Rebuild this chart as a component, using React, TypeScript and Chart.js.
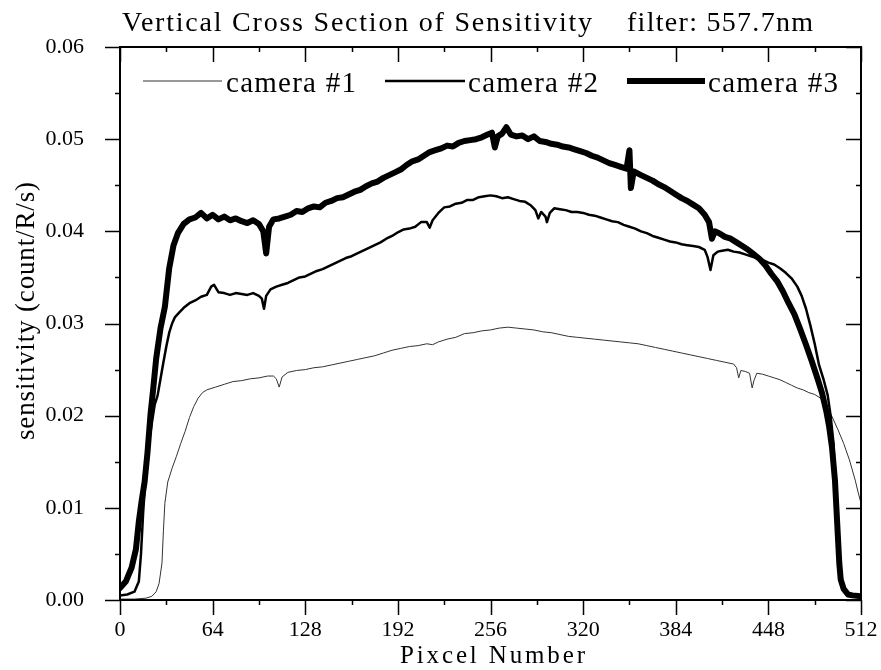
import React, { useEffect, useRef } from "react";
import { Chart, registerables } from "chart.js";

Chart.register(...registerables);

const titleLeft = "Vertical Cross Section of Sensitivity";
const titleRight = "filter: 557.7nm";
const xTitle = "Pixcel Number";
const yTitle = "sensitivity (count/R/s)";
const seriesNames = ["camera #1", "camera #2", "camera #3"];

const xTicks = [0, 64, 128, 192, 256, 320, 384, 448, 512];
const yTicks = [0, 0.01, 0.02, 0.03, 0.04, 0.05, 0.06];

const cam1X = [0, 10, 18, 22, 25, 27, 29, 30, 31, 33, 36, 39, 42, 45, 48, 51, 54, 57, 60, 66, 72, 78, 84, 90, 96, 102, 106, 108, 110, 112, 116, 122, 128, 134, 140, 146, 152, 158, 164, 170, 176, 182, 188, 194, 200, 206, 212, 216, 220, 226, 232, 238, 244, 250, 256, 262, 268, 274, 280, 286, 292, 298, 304, 310, 316, 322, 328, 334, 340, 346, 352, 358, 364, 370, 376, 382, 388, 394, 400, 406, 412, 418, 424, 426, 427.5, 429, 432, 435, 436.8, 438, 440, 444, 448, 452, 456, 460, 464, 468, 472, 476, 480, 484, 488, 492, 496, 500, 504, 508, 510, 512];
const cam1Y = [0.0001, 0.0001, 0.0002, 0.0004, 0.0009, 0.0018, 0.004, 0.0075, 0.0105, 0.0128, 0.0143, 0.0156, 0.017, 0.0183, 0.0198, 0.021, 0.0219, 0.0225, 0.0228, 0.0231, 0.0234, 0.0237, 0.0238, 0.024, 0.0241, 0.0243, 0.0243, 0.024, 0.0231, 0.0242, 0.0247, 0.0249, 0.025, 0.0252, 0.0253, 0.0255, 0.0257, 0.0259, 0.0261, 0.0263, 0.0265, 0.0268, 0.0271, 0.0273, 0.0275, 0.0276, 0.0278, 0.0277, 0.028, 0.0283, 0.0285, 0.0289, 0.029, 0.0292, 0.0293, 0.0295, 0.0296, 0.0295, 0.0294, 0.0293, 0.0291, 0.029, 0.0288, 0.0286, 0.0285, 0.0284, 0.0283, 0.0282, 0.0281, 0.028, 0.0279, 0.0278, 0.0276, 0.0274, 0.0272, 0.027, 0.0268, 0.0266, 0.0264, 0.0262, 0.026, 0.0258, 0.0256, 0.0252, 0.0241, 0.0249, 0.0248, 0.0246, 0.023, 0.0238, 0.0246, 0.0245, 0.0243, 0.0241, 0.0239, 0.0236, 0.0233, 0.023, 0.0228, 0.0225, 0.0223, 0.0219, 0.021, 0.0199, 0.0185, 0.017, 0.0152, 0.013, 0.0117, 0.0105];

const cam2X = [0, 5, 10, 13, 14.5, 16, 18, 20, 22, 24, 26, 28, 30, 32, 34, 36, 38, 41, 44, 48, 52, 56, 60, 63, 65, 68, 72, 76, 80, 84, 88, 92, 96, 98, 99.5, 101, 104, 108, 112, 116, 120, 124, 128, 132, 136, 140, 144, 148, 152, 156, 160, 164, 168, 172, 176, 180, 184, 188, 192, 196, 200, 204, 208, 212, 214, 216, 220, 224, 228, 232, 236, 240, 244, 248, 252, 256, 260, 264, 268, 272, 276, 280, 284, 287, 289, 291, 294, 295, 297, 300, 304, 308, 312, 316, 320, 324, 328, 332, 336, 340, 344, 348, 352, 356, 360, 364, 368, 372, 376, 380, 384, 388, 392, 396, 400, 404, 406, 408, 410, 413, 416, 420, 424, 428, 432, 436, 440, 444, 448, 452, 456, 460, 464, 468, 471, 474, 477, 480, 483, 486, 489, 491, 493, 494, 495, 496, 497, 498, 500, 504, 512];
const cam2Y = [0.0005, 0.0006, 0.0009, 0.002, 0.005, 0.0095, 0.014, 0.017, 0.0192, 0.0212, 0.0222, 0.024, 0.0258, 0.0275, 0.029, 0.03, 0.0307, 0.0312, 0.0317, 0.0322, 0.0325, 0.0329, 0.0331, 0.034, 0.0342, 0.0334, 0.0333, 0.0331, 0.0333, 0.0332, 0.0331, 0.0333, 0.033, 0.0327, 0.0316, 0.033, 0.0337, 0.034, 0.0342, 0.0344, 0.0347, 0.035, 0.0351, 0.0354, 0.0357, 0.0359, 0.0362, 0.0365, 0.0368, 0.0371, 0.0373, 0.0376, 0.0379, 0.0382, 0.0385, 0.0388, 0.0392, 0.0395, 0.0399, 0.0402, 0.0403, 0.0405, 0.041, 0.041, 0.0404, 0.0412, 0.042, 0.0426, 0.0427, 0.043, 0.0431, 0.0434, 0.0434, 0.0437, 0.0438, 0.0439, 0.0438, 0.0436, 0.0437, 0.0435, 0.0433, 0.0432, 0.0428, 0.0423, 0.0414, 0.0421, 0.0416, 0.041, 0.042, 0.0425, 0.0424, 0.0423, 0.0421, 0.0421, 0.042, 0.0418, 0.0417, 0.0415, 0.0413, 0.0411, 0.041, 0.0407, 0.0405, 0.0403, 0.04, 0.0398, 0.0395, 0.0393, 0.0391, 0.0389, 0.0388, 0.0386, 0.0385, 0.0384, 0.0383, 0.038, 0.0372, 0.0358, 0.0374, 0.0378, 0.0379, 0.038, 0.0378, 0.0377, 0.0375, 0.0373, 0.0371, 0.0369, 0.0366, 0.0364, 0.036, 0.0355, 0.0349, 0.034, 0.033, 0.0316, 0.0298, 0.0278, 0.0255, 0.024, 0.0222, 0.02, 0.017, 0.013, 0.01, 0.007, 0.004, 0.0022, 0.0012, 0.0006, 0.0004];

const cam3X = [0, 4, 8, 11, 13, 15, 17, 19, 21, 23, 25, 28, 31, 34, 37, 40, 44, 48, 52, 56, 60, 64, 68, 72, 76, 80, 84, 88, 92, 96, 99, 101, 103, 106, 110, 114, 118, 122, 126, 130, 134, 138, 142, 146, 150, 154, 158, 162, 166, 170, 174, 178, 182, 186, 190, 194, 198, 202, 206, 210, 214, 218, 222, 226, 230, 234, 238, 242, 246, 250, 254, 257, 259, 261, 264, 267, 270, 274, 278, 282, 286, 290, 294, 298, 302, 306, 310, 314, 318, 322, 326, 330, 334, 338, 342, 346, 350, 352, 353, 355, 360, 364, 368, 372, 376, 380, 384, 388, 392, 396, 400, 404, 407, 409, 411, 414, 418, 422, 426, 430, 434, 438, 442, 446, 450, 454, 458, 462, 466, 470, 474, 478, 482, 485, 488, 490, 492, 494, 495, 496, 497, 498, 500, 503, 506, 512];
const cam3Y = [0.0013, 0.002, 0.0035, 0.0055, 0.0085, 0.0108, 0.0128, 0.016, 0.02, 0.023, 0.0262, 0.0295, 0.0318, 0.036, 0.0385, 0.0398, 0.0408, 0.0413, 0.0415, 0.042, 0.0414, 0.0418, 0.0413, 0.0416, 0.0412, 0.0414, 0.0411, 0.0409, 0.0412, 0.0408, 0.04, 0.0376, 0.0405, 0.0413, 0.0414, 0.0416, 0.0418, 0.0422, 0.0421, 0.0425, 0.0427, 0.0426, 0.0431, 0.0433, 0.0436, 0.0437, 0.044, 0.0443, 0.0445, 0.0449, 0.0452, 0.0454, 0.0458, 0.0461, 0.0464, 0.0467, 0.0472, 0.0476, 0.0478, 0.0482, 0.0486, 0.0488, 0.049, 0.0493, 0.0492, 0.0496, 0.0498, 0.0499, 0.05, 0.0502, 0.0505, 0.0507, 0.0491, 0.0503, 0.0506, 0.0513, 0.0505, 0.0503, 0.0504, 0.05, 0.0503, 0.0498, 0.0497, 0.0495, 0.0494, 0.0492, 0.0491, 0.0489, 0.0487, 0.0485, 0.0482, 0.048, 0.0477, 0.0474, 0.0472, 0.047, 0.0468, 0.0488, 0.0447, 0.0465, 0.0461, 0.0458, 0.0455, 0.0451, 0.0448, 0.0444, 0.044, 0.0436, 0.0433, 0.0429, 0.0425, 0.0418, 0.041, 0.0392, 0.04, 0.0398, 0.0394, 0.0392, 0.0388, 0.0384, 0.038, 0.0375, 0.037, 0.0363, 0.0354, 0.0346, 0.0335, 0.0322, 0.031, 0.0294, 0.0277, 0.0259, 0.024, 0.0225, 0.0205, 0.0188, 0.0165, 0.013, 0.01, 0.007, 0.004, 0.0022, 0.0012, 0.0006, 0.0005, 0.0004];

const toPoints = (xs: number[], ys: number[]) => xs.map((x, i) => ({ x, y: ys[i] }));

const SERIF = '"Liberation Serif", "DejaVu Serif", serif';

function spacedText(ctx: CanvasRenderingContext2D, text: string, x: number, y: number, width: number, font: string) {
  ctx.font = font;
  (ctx as any).letterSpacing = "0px";
  const w = ctx.measureText(text).width;
  const ls = (width - w) / Math.max(1, text.length - 1);
  (ctx as any).letterSpacing = ls + "px";
  ctx.textAlign = "left";
  ctx.textBaseline = "alphabetic";
  ctx.fillText(text, x, y);
  (ctx as any).letterSpacing = "0px";
}

const decorPlugin = {
  id: "decor",
  afterDraw(chart: any) {
    const ctx: CanvasRenderingContext2D = chart.ctx;
    const { left, right, top, bottom } = chart.chartArea;
    const xs = chart.scales.x;
    const ys = chart.scales.y;
    ctx.save();
    ctx.strokeStyle = "#000";
    ctx.fillStyle = "#000";
    ctx.lineWidth = 2;
    ctx.strokeRect(left, top, right - left, bottom - top);
    ctx.lineWidth = 1.5;
    ctx.beginPath();
    for (let v = 0; v <= 512; v += 32) {
      const px = Math.round(xs.getPixelForValue(v)) + 0.5;
      const major = v % 64 === 0;
      const len = major ? 15 : 5;
      ctx.moveTo(px, bottom);
      ctx.lineTo(px, bottom + len);
      ctx.moveTo(px, top);
      ctx.lineTo(px, top + len);
    }
    for (let k = 0; k <= 12; k++) {
      const v = k * 0.005;
      const py = Math.round(ys.getPixelForValue(v)) + 0.5;
      const major = k % 2 === 0;
      const len = major ? 15 : 5;
      ctx.moveTo(left, py);
      ctx.lineTo(left - len, py);
      ctx.moveTo(right, py);
      ctx.lineTo(right - len, py);
    }
    ctx.stroke();

    // title
    spacedText(ctx, titleLeft, 122, 31, 470, `28px ${SERIF}`);
    spacedText(ctx, titleRight, 627, 31, 186, `28px ${SERIF}`);

    // legend
    const legendLines = [
      { x0: 143, x1: 222, w: 1, tx: 226, color: "#333" },
      { x0: 385, x1: 465, w: 2.5, tx: 468, color: "#000" },
      { x0: 627, x1: 705, w: 6, tx: 708, color: "#000" },
    ];
    legendLines.forEach((l, i) => {
      ctx.strokeStyle = l.color;
      ctx.lineWidth = l.w;
      ctx.beginPath();
      ctx.moveTo(l.x0, 81);
      ctx.lineTo(l.x1, 81);
      ctx.stroke();
      ctx.fillStyle = "#000";
      spacedText(ctx, seriesNames[i], l.tx, 92, 130, `29px ${SERIF}`);
    });

    // axis titles
    spacedText(ctx, xTitle, 400, 663, 185, `25px ${SERIF}`);
    ctx.save();
    ctx.translate(34, 440);
    ctx.rotate(-Math.PI / 2);
    spacedText(ctx, yTitle, 0, 0, 258, `27px ${SERIF}`);
    ctx.restore();
    ctx.restore();
  },
};

export default function App() {
  const ref = useRef<HTMLCanvasElement>(null);
  useEffect(() => {
    document.body.style.margin = "0";
    const canvas = ref.current!;
    const chart = new Chart(canvas, {
      type: "line",
      data: {
        datasets: [
          { label: seriesNames[0], data: toPoints(cam1X, cam1Y), borderColor: "#333", borderWidth: 1, pointRadius: 0, order: 2 },
          { label: seriesNames[1], data: toPoints(cam2X, cam2Y), borderColor: "#000", borderWidth: 2.5, pointRadius: 0, order: 1 },
          { label: seriesNames[2], data: toPoints(cam3X, cam3Y), borderColor: "#000", borderWidth: 6, pointRadius: 0, order: 0 },
        ],
      },
      options: {
        animation: false,
        responsive: false,
        maintainAspectRatio: false,
        layout: { padding: { top: 47, right: 20, left: 0, bottom: 0 } },
        plugins: { legend: { display: false }, title: { display: false }, tooltip: { enabled: false } },
        elements: { line: { tension: 0, borderJoinStyle: "round", borderCapStyle: "round" } },
        scales: {
          x: {
            type: "linear",
            min: 0,
            max: 512,
            afterBuildTicks: (s: any) => { s.ticks = xTicks.map((v) => ({ value: v })); },
            afterFit: (s: any) => { s.height = 70; s.paddingLeft = 0; s.paddingRight = 0; },
            grid: { display: false },
            border: { display: false },
            ticks: { font: { family: SERIF, size: 22 }, color: "#000", padding: 9, maxRotation: 0 },
          },
          y: {
            type: "linear",
            min: 0,
            max: 0.06,
            afterBuildTicks: (s: any) => { s.ticks = yTicks.map((v) => ({ value: v })); },
            afterFit: (s: any) => { s.width = 120; s.paddingTop = 0; s.paddingBottom = 0; },
            grid: { display: false },
            border: { display: false },
            ticks: { font: { family: SERIF, size: 22 }, color: "#000", padding: 28, callback: (v: any) => Number(v).toFixed(2) },
          },
        },
      },
      plugins: [decorPlugin],
    } as any);
    return () => chart.destroy();
  }, []);
  return (
    <div style={{ width: 881, height: 670, background: "#fff" }}>
      <canvas ref={ref} width={881} height={670} style={{ display: "block", width: 881, height: 670 }} />
    </div>
  );
}
